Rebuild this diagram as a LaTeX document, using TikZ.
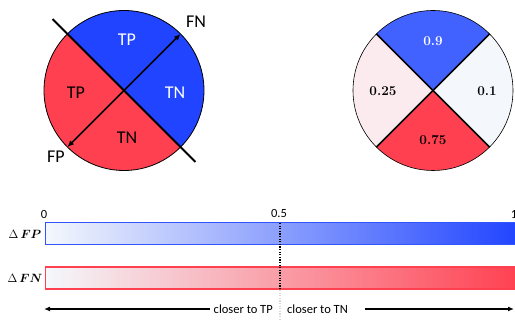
\documentclass[tikz,border=0pt]{standalone}
\usepackage{amsmath}
\usepackage{bm}
\usepackage{fontspec}
\usetikzlibrary{calc,arrows.meta}
\newfontfamily\labelfont{Carlito}

\definecolor{blueA}{RGB}{32,68,255}
\definecolor{blueB}{RGB}{66,98,255}
\definecolor{redA}{RGB}{255,64,80}
\definecolor{pinkA}{RGB}{251,235,238}
\definecolor{paleA}{RGB}{244,248,252}
\definecolor{blueMid}{RGB}{198,206,252}
\definecolor{redMid}{RGB}{246,204,210}
\definecolor{blueEdge}{RGB}{50,84,255}

\tikzset{
  lbl/.style={font=\labelfont\fontsize{18}{20}\selectfont, inner sep=0pt},
  small/.style={font=\labelfont\fontsize{12.5}{14}\selectfont},
  num/.style={font=\fontsize{13.5}{15}\selectfont\bfseries, inner sep=0pt},
  delta/.style={font=\fontsize{11.5}{13}\selectfont, inner sep=0pt},
  tip/.style={-{Latex[length=6pt,width=5pt]}},
  bar/.style={draw, line width=1.3pt, minimum width=475pt, minimum height=22pt,
              inner sep=0pt, anchor=west}
}

\begin{document}
\begin{tikzpicture}[x=1pt,y=1pt]
\useasboundingbox (0,0) rectangle (515,320);
\clip (0,0) rectangle (515,320);

% ---- left disk: two halves split by a diagonal ----
\coordinate (L) at (124,229.5);
\fill[blueA] ($(L)+(-45:80)$) arc[start angle=-45,end angle=135,radius=80] -- cycle;
\fill[redA]  ($(L)+(135:80)$) arc[start angle=135,end angle=315,radius=80] -- cycle;
\draw[line width=0.8pt] (L) circle[radius=80];
\coordinate (d1) at ($(L)+(135:101)$);
\coordinate (d2) at ($(L)+(-45:101)$);
\draw[line width=1.8pt] (d1) -- (d2);
\coordinate (aNE) at ($(L)+(45:80)$);
\coordinate (aSW) at ($(L)+(225:80)$);
\draw[line width=1.5pt, {Latex[length=6.5pt,width=5.5pt]}-{Latex[length=6.5pt,width=5.5pt]}] (aSW) -- (aNE);

\node[lbl, text=white] (tpTop) at (127,280) {TP};
\node[lbl, text=white] (tnRight) at (175,227) {TN};
\node[lbl] (tpLeft) at (76,227) {TP};
\node[lbl] (tnBottom) at (127,182) {TN};
\node[lbl] (fn) at (196,298) {FN};
\node[lbl] (fp) at (56,163) {FP};

% ---- right disk: four quadrants ----
\coordinate (R) at (433,229.5);
\fill[blueB] (R) -- ($(R)+(45:80)$)  arc[start angle=45,end angle=135,radius=80] -- cycle;
\fill[pinkA] (R) -- ($(R)+(135:80)$) arc[start angle=135,end angle=225,radius=80] -- cycle;
\fill[redA]  (R) -- ($(R)+(225:80)$) arc[start angle=225,end angle=315,radius=80] -- cycle;
\fill[paleA] (R) -- ($(R)+(-45:80)$) arc[start angle=-45,end angle=45,radius=80] -- cycle;
\draw[line width=0.6pt] (R) circle[radius=80];
\draw[line width=1.6pt] ($(R)+(45:80)$) -- ($(R)+(225:80)$);
\draw[line width=1.6pt] ($(R)+(135:80)$) -- ($(R)+(315:80)$);

\node[num, text=white] (n09) at (433,279) {0.9};
\node[num] (n025) at (383,229) {0.25};
\node[num] (n01) at (487,229) {0.1};
\node[num] (n075) at (433,180) {0.75};

% ---- gradient bars ----
\node[bar, draw=blueEdge, left color=paleA, middle color=blueMid, right color=blueA]
  (barFP) at (44.5,86.5) {};
\node[bar, draw=redA, left color=paleA, middle color=redMid, right color=redA]
  (barFN) at (44.5,42) {};

\node[small] (t0) at (44,106) {0};
\node[small] (t05) at (279,106) {0.5};
\node[small] (t1) at (514,106) {1};

\node[delta] (dFP) at (25,86) {$\Delta\,\bm{FP}$};
\node[delta] (dFN) at (25,42) {$\Delta\,\bm{FN}$};

% ---- threshold marker ----
\coordinate (m1) at (280,97);
\coordinate (m2) at (280,30);
\coordinate (m3) at (280,0);
\draw[line width=1.3pt, dash pattern=on 1.3pt off 1.3pt] (m1) -- (m2);
\draw[line width=1.2pt, black!15, dash pattern=on 1.3pt off 1.3pt] (m2) -- (m3);

% ---- direction arrows ----
\node[small, anchor=east, inner sep=4pt] (closeTP) at (277,11) {closer to TP};
\node[small, anchor=west, inner sep=4pt] (closeTN) at (283,11) {closer to TN};
\coordinate (leftEnd) at (44,11);
\coordinate (rightEnd) at (514,11);
\draw[line width=1.3pt, tip] (closeTP.west) -- (leftEnd);
\draw[line width=1.3pt, tip] ($(closeTN.east)+(13,0)$) -- (rightEnd);
\end{tikzpicture}
\end{document}
